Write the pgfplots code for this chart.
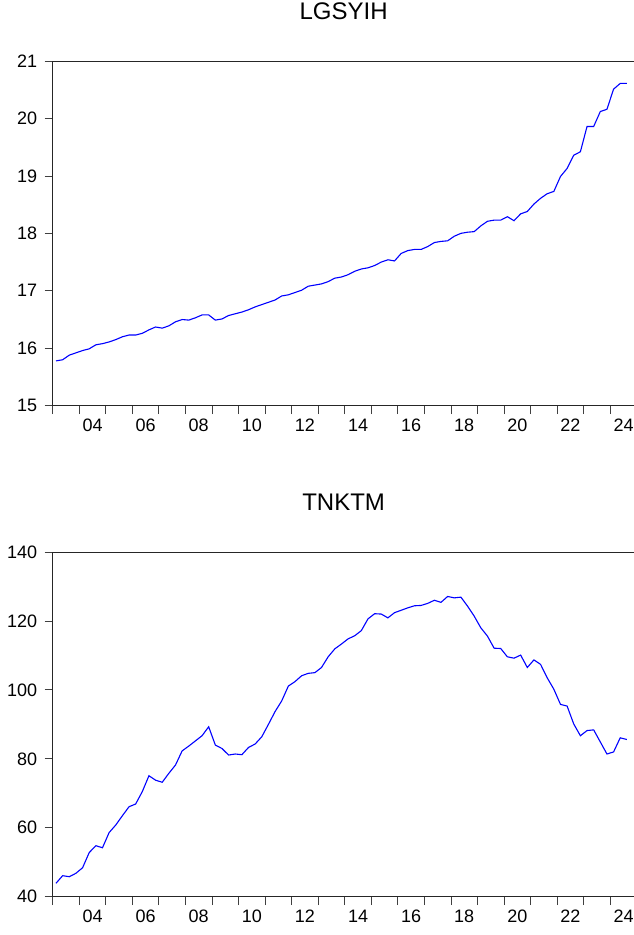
\documentclass[border=0pt]{standalone}
\usepackage{fontspec}
\setmainfont{Liberation Sans}
\usepackage{pgfplots}
\usepackage{pgfplotstable}
\pgfplotsset{compat=1.18}

% quarterly data, x = middle of the quarter
\pgfplotstableread{
t        lgsyih  tnktm
2003.125 15.78   43.9
2003.375 15.80   46.1
2003.625 15.88   45.8
2003.875 15.92   46.8
2004.125 15.96   48.4
2004.375 15.99   52.8
2004.625 16.06   54.8
2004.875 16.08   54.2
2005.125 16.11   58.6
2005.375 16.15   60.8
2005.625 16.20   63.5
2005.875 16.23   66.1
2006.125 16.23   66.9
2006.375 16.26   70.5
2006.625 16.32   75.1
2006.875 16.37   73.8
2007.125 16.35   73.2
2007.375 16.39   75.8
2007.625 16.46   78.2
2007.875 16.50   82.3
2008.125 16.49   83.7
2008.375 16.53   85.2
2008.625 16.58   86.7
2008.875 16.58   89.3
2009.125 16.49   84.0
2009.375 16.51   83.0
2009.625 16.57   81.1
2009.875 16.60   81.4
2010.125 16.63   81.2
2010.375 16.67   83.3
2010.625 16.72   84.3
2010.875 16.76   86.4
2011.125 16.80   90.0
2011.375 16.84   93.7
2011.625 16.91   96.8
2011.875 16.93   101.1
2012.125 16.97   102.4
2012.375 17.01   104.1
2012.625 17.08   104.8
2012.875 17.10   105.0
2013.125 17.12   106.5
2013.375 17.16   109.6
2013.625 17.22   111.9
2013.875 17.24   113.3
2014.125 17.28   114.8
2014.375 17.34   115.7
2014.625 17.38   117.2
2014.875 17.40   120.6
2015.125 17.44   122.1
2015.375 17.50   122.0
2015.625 17.54   120.9
2015.875 17.52   122.4
2016.125 17.65   123.1
2016.375 17.70   123.8
2016.625 17.72   124.4
2016.875 17.72   124.5
2017.125 17.77   125.1
2017.375 17.84   126.0
2017.625 17.86   125.4
2017.875 17.87   127.1
2018.125 17.95   126.7
2018.375 18.00   126.9
2018.625 18.02   124.3
2018.875 18.03   121.4
2019.125 18.13   118.0
2019.375 18.21   115.6
2019.625 18.23   112.1
2019.875 18.23   112.0
2020.125 18.29   109.6
2020.375 18.22   109.2
2020.625 18.34   110.1
2020.875 18.38   106.5
2021.125 18.51   108.7
2021.375 18.61   107.4
2021.625 18.69   103.5
2021.875 18.73   100.2
2022.125 18.99   95.8
2022.375 19.13   95.3
2022.625 19.36   90.1
2022.875 19.42   86.7
2023.125 19.86   88.2
2023.375 19.86   88.4
2023.625 20.12   84.9
2023.875 20.16   81.4
2024.125 20.51   82.0
2024.375 20.61   86.1
2024.625 20.61   85.6
}\datatable

\pgfplotsset{
  evpanel/.style={
    width=581.8pt, height=344.7pt, scale only axis,
    xmin=2003, xmax=2024.913,
    xtick={2004.5,2006.5,2008.5,2010.5,2012.5,2014.5,2016.5,2018.5,2020.5,2022.5,2024.5},
    xticklabels={04,06,08,10,12,14,16,18,20,22,24},
    minor xtick={2003,2004,...,2024},
    tick align=outside, xtick pos=bottom, ytick pos=left,
    major tick length=8pt, minor tick length=8.5pt,
    major x tick style={draw=none},
    tick style={black!75, line width=0.8pt},
    axis line style={black!85, line width=0.9pt},
    ticklabel style={font=\fontsize{18pt}{21pt}\selectfont},
    yticklabel style={xshift=-4pt},
    xticklabel style={yshift=-2pt},
    /pgf/number format/assume math mode=true,
    title style={font=\fontsize{24pt}{28pt}\selectfont, at={(0.5,1)}, anchor=base, yshift=36pt},
    every axis plot/.append style={blue, line width=1.1pt, no markers},
  },
}

\begin{document}
\begin{tikzpicture}
\useasboundingbox (0pt,0pt) rectangle (633pt,-935pt);

\begin{axis}[evpanel, at={(52.7pt,-61pt)}, anchor=north west,
  title={LGSYIH}, ymin=15, ymax=21, ytick={15,16,...,21}]
\addplot table[x=t, y=lgsyih] {\datatable};
\end{axis}

\begin{axis}[evpanel, at={(52.7pt,-552pt)}, anchor=north west,
  title={TNKTM}, ymin=40, ymax=140, ytick={40,60,...,140}]
\addplot table[x=t, y=tnktm] {\datatable};
\end{axis}
\end{tikzpicture}
\end{document}
